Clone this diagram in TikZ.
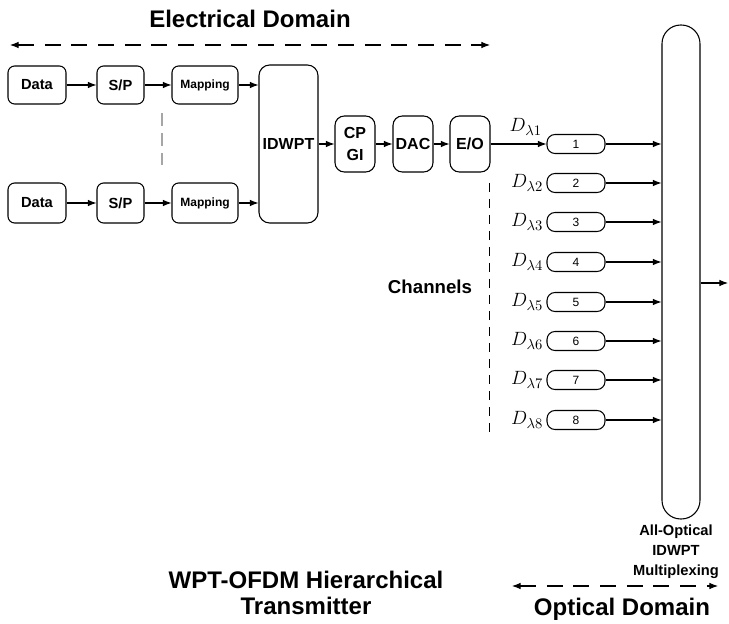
\documentclass[tikz,border=0pt]{standalone}
\usepackage{fontspec}
\setmainfont{Liberation Sans}
\usetikzlibrary{arrows.meta,calc}
\begin{document}
\begin{tikzpicture}[x=0.75pt,y=-0.75pt,
  blk/.style={draw,line width=0.8pt,rounded corners=5pt,inner sep=0pt,align=center,font=\bfseries\fontsize{11}{13}\selectfont},
  chbox/.style={draw,line width=0.8pt,rounded corners=6pt,inner sep=0pt,minimum width=58*0.75pt,minimum height=19*0.75pt,font=\fontsize{9}{10}\selectfont},
  arr/.style={line width=0.8pt,-{Latex[length=6.5pt,width=5pt]}},
  dom/.style={line width=0.8pt,dash pattern=on 12pt off 8pt,{Latex[length=6.5pt,width=5pt]}-{Latex[length=6.5pt,width=5pt]}},
  lab/.style={font=\fontsize{15}{17}\selectfont,anchor=east,inner sep=0pt},
  title/.style={font=\bfseries\fontsize{18}{22}\selectfont,align=center}]
\useasboundingbox (0,0) rectangle (729,624);

% titles
\node[title] (etitle) at (250,19) {Electrical Domain};
\coordinate (el) at (10,45);
\coordinate (er) at (490,45);
\draw[dom] (el) -- (er);

% row 1
\node[blk,minimum width=58*0.75pt,minimum height=38*0.75pt] (d1) at (37,85) {Data};
\node[blk,minimum width=47*0.75pt,minimum height=38*0.75pt] (s1) at (120.5,85) {S/P};
\node[blk,minimum width=66*0.75pt,minimum height=38*0.75pt,font=\bfseries\fontsize{9}{10}\selectfont] (m1) at (205,85) {Mapping};
% row 2
\node[blk,minimum width=58*0.75pt,minimum height=40*0.75pt] (d2) at (37,203) {Data};
\node[blk,minimum width=47*0.75pt,minimum height=40*0.75pt] (s2) at (120.5,203) {S/P};
\node[blk,minimum width=66*0.75pt,minimum height=40*0.75pt,font=\bfseries\fontsize{9}{10}\selectfont] (m2) at (205,203) {Mapping};

\coordinate (g1) at (162,113);
\coordinate (g2) at (162,165);
\draw[gray!70,line width=1.3pt,dash pattern=on 10pt off 5pt] (g1) -- (g2);

\node[blk,rounded corners=8pt,minimum width=59*0.75pt,minimum height=158*0.75pt,font=\bfseries\fontsize{12}{14}\selectfont] (idw) at (288.5,144) {IDWPT};
\node[blk,rounded corners=7pt,minimum width=40*0.75pt,minimum height=56*0.75pt,font=\bfseries\fontsize{12}{16}\selectfont] (cp) at (355,144) {CP\\GI};
\node[blk,rounded corners=7pt,minimum width=40*0.75pt,minimum height=56*0.75pt,font=\bfseries\fontsize{12}{14}\selectfont] (dac) at (413,144) {DAC};
\node[blk,rounded corners=7pt,minimum width=40*0.75pt,minimum height=56*0.75pt,font=\bfseries\fontsize{12}{14}\selectfont] (eo) at (470,144) {E/O};

\draw[arr] (d1) -- (s1);
\draw[arr] (s1) -- (m1);
\draw[arr] (m1.east) -- (m1.east -| idw.west);
\draw[arr] (d2) -- (s2);
\draw[arr] (s2) -- (m2);
\draw[arr] (m2.east) -- (m2.east -| idw.west);
\draw[arr] (idw) -- (cp);
\draw[arr] (cp) -- (dac);
\draw[arr] (dac) -- (eo);

% optical multiplexer
\node[draw,line width=0.8pt,rounded corners=14pt,minimum width=38*0.75pt,minimum height=494*0.75pt,inner sep=0pt] (pill) at (681,272) {};
\node[font=\bfseries\fontsize{11}{15}\selectfont,align=center] (mux) at (676,552) {All-Optical\\IDWPT\\Multiplexing};
\coordinate (out) at (728,283);
\draw[arr] (pill.east |- out) -- (out);

% channels
\foreach \i/\y in {1/144,2/183,3/222,4/262,5/302,6/341,7/380,8/420}{
  \node[chbox] (c\i) at (576,\y) {\i};
  \draw[arr] (c\i.east) -- (c\i.east -| pill.west);
}
\draw[arr] (eo) -- (c1);

\node[lab] (l1) at (542,127) {$D_{\lambda 1}$};
\foreach \i in {2,...,8}{
  \node[lab] (l\i) at ($(c\i.west)+(-3,0)$) {$D_{\lambda \i}$};
}

\coordinate (v1) at (489,183);
\coordinate (v2) at (489,437);
\draw[line width=0.7pt,dash pattern=on 7pt off 5pt] (v1) -- (v2);
\node[font=\bfseries\fontsize{14}{16}\selectfont] (chan) at (430,287) {Channels};

% bottom
\node[title,font=\bfseries\fontsize{18}{20}\selectfont] (wt) at (306,593) {WPT-OFDM Hierarchical\\Transmitter};
\coordinate (ol) at (512,586);
\coordinate (or) at (718,586);
\draw[dom] (ol) -- (or);
\node[title] (otitle) at (622,609) {Optical Domain};
\end{tikzpicture}
\end{document}
